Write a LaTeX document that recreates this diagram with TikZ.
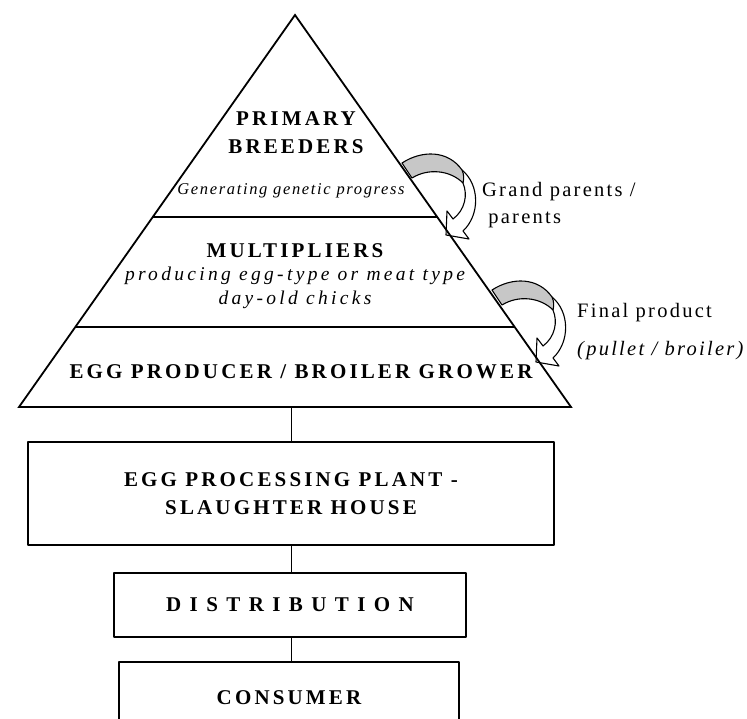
\documentclass[tikz,border=0pt]{standalone}
\usepackage{fontspec}
\setmainfont{Liberation Serif}
\newfontfamily\spacedfont[LetterSpace=15]{Liberation Serif}
\newfontfamily\notefont[LetterSpace=10]{Liberation Serif}
\newfontfamily\widenotefont[LetterSpace=17]{Liberation Serif}
\newfontfamily\sidefont[LetterSpace=11]{Liberation Serif}
\usetikzlibrary{calc}

\tikzset{
  stage/.style={font=\spacedfont\bfseries\fontsize{21}{28}\selectfont, align=center, inner sep=0pt},
  note/.style={font=\notefont\itshape\fontsize{16.5}{24}\selectfont, align=center, inner sep=0pt},
  widenote/.style={note, font=\widenotefont\itshape\fontsize{19.5}{24}\selectfont},
  side/.style={font=\sidefont\fontsize{20.5}{27}\selectfont, align=left, anchor=west, inner sep=0pt},
  chainbox/.style={stage, draw, line width=1.4pt},
  bendarrow/.pic={
    \filldraw[fill=white, line width=1.1pt] (60,7) .. controls (78,22) and (78,52) .. (61,68)
      -- (67,76) -- (44,72) -- (45,48) -- (51,56) .. controls (63,47) and (66,32) .. (61,20) -- cycle;
    \filldraw[fill=black!22, line width=1.1pt] (0,0) .. controls (20,-13) and (46,-13) .. (60,7)
      .. controls (62,11) and (62,16) .. (61,20) .. controls (48,7) and (26,5) .. (10,15) -- cycle;
  }
}

\begin{document}
\begin{tikzpicture}[x=1pt, y=-1pt, line join=round]
  \useasboundingbox (0,0) rectangle (747,718);

  % curved arrows beside the pyramid
  \pic at (402,163) {bendarrow};
  \pic at (492,290) {bendarrow};

  % pyramid
  \draw[line width=1.8pt, line join=miter] (295,15) coordinate (apex) -- (571,407) coordinate (baseR)
    -- (19,407) coordinate (baseL) -- cycle;
  \draw[line width=1.1pt] ($(apex)!0.5153!(baseL)$) -- ($(apex)!0.5153!(baseR)$);
  \draw[line width=1.1pt] ($(apex)!0.7959!(baseL)$) -- ($(apex)!0.7959!(baseR)$);
  \coordinate (base) at (291,407);

  \node[stage] (primary) at (296,133) {PRIMARY\\BREEDERS};
  \node[note] (genetic) at (291,191) {Generating genetic progress};
  \node[stage] (multi) at (295,251) {MULTIPLIERS};
  \node[widenote] (chicks) at (295,288) {producing egg-type or meat type\\day-old chicks};
  \node[stage] (producer) at (301,372) {EGG PRODUCER / BROILER GROWER};

  % side labels
  \node[side] (grand) at (482,205) {Grand parents /\\\hspace{0.3em}parents};
  \node[side] (final) at (577,332) {Final product\\[11pt]\textit{(pullet / broiler)}};

  % chain below the pyramid
  \node[chainbox, minimum width=526, minimum height=103] (plant) at (291,493.5)
    {EGG PROCESSING PLANT -\\SLAUGHTER HOUSE};
  \node[chainbox, minimum width=352, minimum height=64] (distrib) at (290,605)
    {D I S T R I B U T I O N};
  \node[chainbox, minimum width=340, minimum height=72] (consumer) at (289,698) {CONSUMER};

  \draw[line width=1pt] (base) -- (plant.north);
  \draw[line width=1pt] (plant.south) -- (plant.south |- distrib.north);
  \draw[line width=1pt] (plant.south |- distrib.south) -- (plant.south |- consumer.north);
\end{tikzpicture}
\end{document}
